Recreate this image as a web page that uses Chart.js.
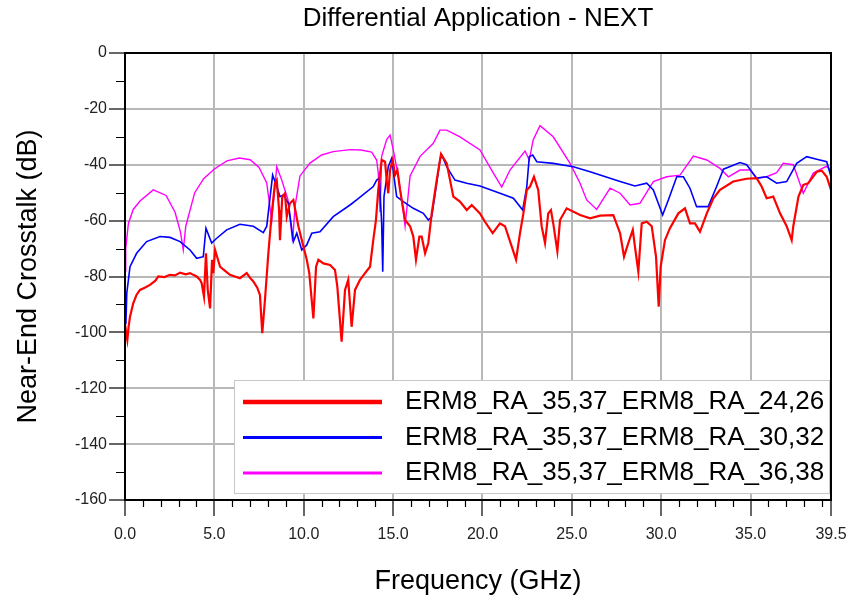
<!DOCTYPE html>
<html>
<head>
<meta charset="utf-8">
<script src="https://cdn.jsdelivr.net/npm/chart.js@4"></script>
<style>
  html, body { margin: 0; padding: 0; background: #fff; }
  canvas { display: block; }
</style>
</head>
<body>
<canvas id="myChart" width="856" height="601"></canvas>
<script>
// series labels
const seriesNames = ['ERM8_RA_35,37_ERM8_RA_24,26', 'ERM8_RA_35,37_ERM8_RA_30,32', 'ERM8_RA_35,37_ERM8_RA_36,38'];
const xTickValues = [0, 5, 10, 15, 20, 25, 30, 35, 39.5];

// red: 24,26
const redFreq = [0, 0.06, 0.13, 0.2, 0.28, 0.46, 0.65, 0.84, 1.1, 1.4, 1.7, 1.86, 2.2, 2.52, 2.8, 3.08, 3.4, 3.64, 3.85, 4.01, 4.2, 4.29, 4.42, 4.53, 4.63, 4.76, 4.87, 4.94, 5.04, 5.32, 5.6, 5.87, 6.15, 6.43, 6.81, 7.0, 7.18, 7.4, 7.55, 7.68, 7.83, 8.02, 8.21, 8.39, 8.49, 8.62, 8.67, 8.8, 8.95, 9.05, 9.23, 9.42, 9.7, 9.98, 10.17, 10.31, 10.54, 10.69, 10.82, 11.1, 11.47, 11.75, 11.88, 12.12, 12.31, 12.49, 12.68, 12.87, 13.15, 13.43, 13.71, 13.89, 14.04, 14.17, 14.36, 14.55, 14.64, 14.73, 14.83, 14.98, 15.11, 15.24, 15.39, 15.67, 15.95, 16.13, 16.28, 16.47, 16.6, 16.79, 16.97, 17.16, 17.44, 17.68, 18.0, 18.37, 18.74, 19.12, 19.4, 19.86, 20.14, 20.57, 20.98, 21.26, 21.64, 21.88, 22.1, 22.29, 22.48, 22.66, 22.88, 23.12, 23.31, 23.5, 23.68, 23.83, 23.96, 24.19, 24.34, 24.71, 25.46, 26.02, 26.58, 27.32, 27.7, 27.92, 28.16, 28.41, 28.53, 28.72, 28.91, 29.19, 29.47, 29.71, 29.86, 29.97, 30.21, 30.49, 30.96, 31.33, 31.61, 31.89, 32.17, 32.55, 32.92, 33.29, 34.03, 34.78, 35.34, 35.62, 35.9, 36.27, 36.65, 37.02, 37.3, 37.39, 37.68, 37.95, 38.23, 38.7, 38.98, 39.26, 39.5];
const redDb = [-97, -100, -102.7, -98, -94.4, -89.6, -86.5, -84.8, -84, -83, -81.5, -80, -80.2, -79.4, -79.6, -78.6, -79.2, -78.8, -79.5, -80, -81.2, -82.4, -87.2, -71.7, -84.8, -91.4, -74, -78.8, -70.5, -76.5, -78, -79.4, -80, -80.6, -78.8, -80.5, -81.8, -84, -86.6, -100.3, -88.4, -71.7, -57.4, -46.6, -45.5, -56.2, -67, -51.4, -50.2, -58.6, -53.8, -52.6, -62, -69.3, -74, -78.8, -95, -76.5, -74, -75.3, -75.9, -77.7, -83.6, -103.3, -84.8, -81.2, -98, -84.8, -81.2, -78.8, -76.5, -67, -59.8, -49, -38.3, -38.9, -45.5, -50.2, -41.9, -38.3, -43.7, -41.9, -49, -59.8, -62, -65.7, -74, -65.7, -65.7, -71.7, -68, -57.4, -45.5, -36.2, -39.5, -51.4, -53.2, -56.2, -54.4, -57.4, -60.4, -64.5, -61, -62, -69.3, -74, -64.5, -57.4, -49, -47.8, -44.3, -49, -62, -68, -57.4, -56.2, -61, -71, -59.8, -55.6, -58, -59.2, -58.2, -58, -64.5, -72.9, -68, -63.3, -69.3, -78.3, -61, -60.4, -62, -72.9, -90.8, -76.5, -67, -62.7, -57.4, -55.6, -61, -61, -64, -57.4, -52, -49, -46, -45, -44.8, -47.8, -52, -51.4, -57.4, -62, -67, -62, -51.4, -47.2, -46.6, -42.5, -42.1, -44.3, -49];

// blue: 30,32
const blueFreq = [0, 0.05, 0.1, 0.28, 0.65, 1.21, 1.96, 2.52, 3.08, 3.64, 4.01, 4.38, 4.53, 4.85, 5.13, 5.69, 6.43, 7.18, 7.74, 7.93, 8.26, 8.49, 8.67, 8.86, 9.14, 9.42, 9.61, 9.89, 10.17, 10.45, 10.91, 11.65, 12.59, 12.96, 13.89, 14.08, 14.23, 14.36, 14.42, 14.49, 14.73, 14.92, 15.05, 15.2, 15.57, 16.13, 16.69, 16.97, 17.16, 17.44, 17.62, 17.72, 18.0, 18.46, 19.12, 19.86, 20.98, 21.73, 22.25, 22.48, 22.62, 22.81, 23.04, 23.96, 25.08, 26.02, 26.58, 27.7, 28.53, 29.19, 29.56, 30.08, 30.4, 30.87, 31.24, 31.61, 31.98, 32.63, 33.1, 33.48, 34.41, 34.78, 35.34, 35.9, 36.46, 37.02, 37.58, 38.14, 38.7, 39.26, 39.5];
const blueDb = [-91, -97, -86, -76.5, -71.7, -67.5, -65.7, -66, -67.5, -70.5, -73.5, -72.9, -62.7, -68, -66.3, -63.3, -61.3, -62, -64.3, -62, -43.7, -47.8, -51.4, -50.8, -53.8, -67.5, -64.5, -70.5, -68.7, -64.5, -64, -58.6, -54.4, -52.6, -47.8, -45.5, -44.8, -61, -78.3, -51.4, -40.7, -37.7, -44.3, -51.4, -53.2, -55.6, -57.4, -59.8, -58.6, -46.6, -38.3, -36.5, -40.7, -45.5, -46.6, -47.6, -50.2, -52, -56.2, -47.8, -37.1, -36.5, -38.9, -39.5, -40.7, -42.5, -43.7, -46, -47.6, -46.6, -49, -58, -52.6, -44.3, -44.3, -48.4, -55, -55, -47.8, -41.6, -39.2, -40, -44.8, -44.3, -46.6, -46, -39.5, -37.1, -38, -38.9, -44.3];

// magenta: 36,38
const magentaFreq = [0, 0.04, 0.19, 0.46, 0.84, 1.58, 2.3, 2.8, 3.1, 3.26, 3.4, 3.9, 4.4, 5.0, 5.7, 6.4, 7.0, 7.5, 7.93, 8.21, 8.49, 8.77, 9.12, 9.38, 9.51, 9.79, 10.35, 11.0, 11.65, 12.6, 13.2, 13.8, 14.08, 14.17, 14.27, 14.36, 14.64, 14.83, 15.01, 15.29, 15.57, 15.67, 15.95, 16.51, 17.25, 17.62, 18.0, 18.74, 19.86, 20.61, 21.08, 21.54, 22.38, 22.62, 22.84, 23.22, 23.96, 24.9, 25.46, 25.83, 26.39, 27.14, 27.7, 28.26, 28.81, 29.56, 30.31, 31.05, 31.8, 32.55, 33.29, 33.76, 34.41, 34.97, 35.34, 35.9, 36.46, 36.83, 37.39, 37.95, 38.51, 39.26, 39.5];
const magentaDb = [-78, -70, -61, -56, -53, -49, -51, -57, -64, -70.5, -62, -50, -45, -41.5, -38.6, -37.6, -38.2, -41, -46.5, -60, -40.7, -45.5, -52.6, -67.5, -55, -44, -39.4, -36.5, -35.3, -34.6, -34.7, -35.5, -38.3, -43, -57, -37, -31, -29.4, -34.7, -44, -57, -62, -44, -37, -32.3, -27.6, -27.6, -30, -34.7, -43, -48, -41.9, -35.1, -38.3, -31, -26, -30, -39.5, -46.6, -52.6, -56, -48.4, -50.2, -54.4, -53.8, -46, -44.3, -43.7, -36.9, -38.3, -41.3, -44.3, -41.9, -41.9, -44.8, -44.3, -42.8, -39.5, -40, -50.2, -43, -40.5, -42];

const toPoints = (xs, ys) => xs.map((f, i) => ({x: f, y: ys[i]}));

// minor ticks, black frame and the boxed legend inside the plot
const frameAndLegend = {
    id: 'frameAndLegend',
    afterDraw(chart) {
        const {ctx, chartArea: a, scales: {x, y}} = chart;
        ctx.save();
        ctx.strokeStyle = '#000';
        ctx.lineWidth = 1.2;
        ctx.beginPath();
        for (let f = 1; f < 39.5; f++) {
            if (f % 5 === 0) continue;
            const px = Math.round(x.getPixelForValue(f)) + 0.5;
            ctx.moveTo(px, a.bottom);
            ctx.lineTo(px, a.bottom + 7);
        }
        for (let v = -150; v < 0; v += 20) {
            const py = Math.round(y.getPixelForValue(v)) + 0.5;
            ctx.moveTo(a.left, py);
            ctx.lineTo(a.left - 9, py);
        }
        ctx.stroke();
        ctx.lineWidth = 2;
        ctx.strokeRect(a.left, a.top, a.right - a.left, a.bottom - a.top);

        // legend
        const lx = a.left + 109, lr = a.right - 2, ly = a.bottom - 120, lb = a.bottom - 7;
        ctx.fillStyle = '#fff';
        ctx.fillRect(lx, ly, lr - lx, lb - ly);
        ctx.strokeStyle = '#c8c8c8';
        ctx.lineWidth = 1;
        ctx.strokeRect(lx + 0.5, ly + 0.5, lr - lx, lb - ly);
        ctx.font = '26px "Liberation Sans", Arial, sans-serif';
        ctx.textBaseline = 'middle';
        ctx.fillStyle = '#000';
        chart.data.datasets.forEach((ds, i) => {
            const rowY = ly + 22 + i * 35.5;
            ctx.strokeStyle = ds.borderColor;
            ctx.lineWidth = i === 0 ? 4.5 : 3;
            ctx.beginPath();
            ctx.moveTo(lx + 9, rowY);
            ctx.lineTo(lx + 148, rowY);
            ctx.stroke();
            ctx.fillText(ds.label, lx + 171, rowY);
        });
        ctx.restore();
    }
};

const gridGray = '#b8b8b8';
const fontFamily = '"Liberation Sans", Arial, sans-serif';

new Chart(document.getElementById('myChart'), {
    type: 'line',
    data: {
        datasets: [{
            label: seriesNames[0],
            data: toPoints(redFreq, redDb),
            borderColor: '#ff0000',
            borderWidth: 2.2,
            pointRadius: 0,
            fill: false
        }, {
            label: seriesNames[1],
            data: toPoints(blueFreq, blueDb),
            borderColor: '#0000ff',
            borderWidth: 1.6,
            pointRadius: 0,
            fill: false
        }, {
            label: seriesNames[2],
            data: toPoints(magentaFreq, magentaDb),
            borderColor: '#ff00ff',
            borderWidth: 1.4,
            pointRadius: 0,
            fill: false
        }]
    },
    options: {
        responsive: false,
        animation: false,
        layout: {padding: {left: 0, right: 25, top: 0, bottom: 0}},
        plugins: {
            legend: {display: false},
            tooltip: {enabled: false},
            title: {
                display: true,
                text: 'Differential Application - NEXT',
                fullSize: false,
                color: '#000',
                font: {family: fontFamily, size: 26, weight: 'normal'},
                padding: {top: 3, bottom: 18.8}
            }
        },
        scales: {
            x: {
                type: 'linear',
                min: 0,
                max: 39.5,
                afterBuildTicks: (scale) => {
                    scale.ticks = xTickValues.map(v => ({value: v}));
                },
                afterFit: (scale) => { scale.height = 101; },
                ticks: {
                    autoSkip: false,
                    maxRotation: 0,
                    color: '#222',
                    padding: 9,
                    font: {family: fontFamily, size: 16},
                    callback: (v) => Number(v).toFixed(1)
                },
                grid: {color: gridGray, lineWidth: 2, tickColor: '#000', tickWidth: 1.2, tickLength: 16},
                border: {color: '#000', width: 2},
                title: {
                    display: true,
                    text: 'Frequency (GHz)',
                    color: '#000',
                    font: {family: fontFamily, size: 27},
                    padding: {top: 0, bottom: 3}
                }
            },
            y: {
                min: -160,
                max: 0,
                afterFit: (scale) => { scale.width = 125; },
                ticks: {
                    stepSize: 20,
                    color: '#222',
                    padding: 2,
                    font: {family: fontFamily, size: 16}
                },
                grid: {color: gridGray, lineWidth: 2, tickColor: '#000', tickWidth: 1.2, tickLength: 16},
                border: {color: '#000', width: 2},
                title: {
                    display: true,
                    text: 'Near-End Crosstalk (dB)',
                    color: '#000',
                    font: {family: fontFamily, size: 27},
                    padding: {top: 12, bottom: 0}
                }
            }
        }
    },
    plugins: [frameAndLegend]
});
</script>
</body>
</html>
